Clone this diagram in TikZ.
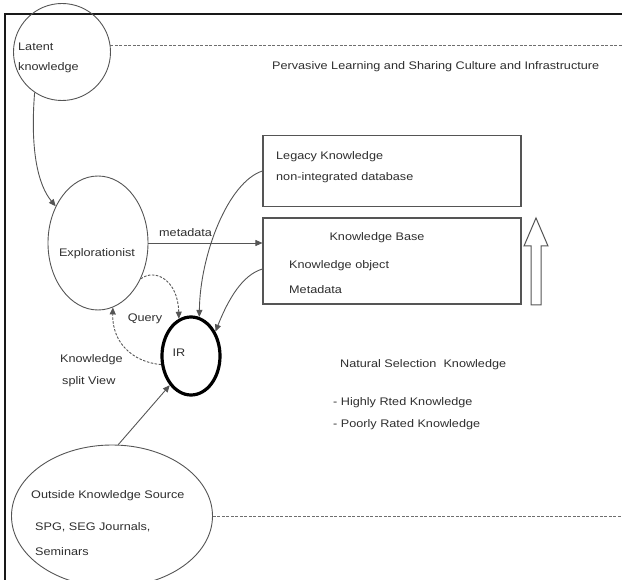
\documentclass[tikz,border=0pt]{standalone}
\usepackage{fontspec}
\setmainfont[FakeStretch=1.15]{Liberation Sans}
\usetikzlibrary{shapes.geometric,arrows.meta,calc}
\definecolor{ln}{HTML}{555555}
\definecolor{tx}{HTML}{2E2E2E}
\begin{document}
\begin{tikzpicture}[x=1pt,y=-1pt,
  lbl/.style={anchor=west,inner sep=0pt,text=tx,font=\fontsize{11}{12}\selectfont},
  clbl/.style={inner sep=0pt,text=tx,font=\fontsize{11}{12}\selectfont},
  oval/.style={ellipse,draw=ln,line width=0.9pt,inner sep=0pt},
  box/.style={rectangle,draw=ln,line width=1.1pt,inner sep=0pt},
  arr/.style={draw=ln,line width=0.9pt,-{Triangle[length=7pt,width=6pt]}},
  darr/.style={arr,dash pattern=on 2.5pt off 1.5pt},
  dline/.style={draw=ln!85,line width=1pt,dash pattern=on 3pt off 1.5pt}]
\useasboundingbox (0,0) rectangle (622,580);
\clip (0,0) rectangle (622,580);
% frame
\coordinate (ftl) at (5,14);
\coordinate (ftr) at (622,14);
\coordinate (fbl) at (5,580);
\draw[line width=2.6pt,black!90] (fbl) -- (ftl) -- (ftr);
% nodes
\node[oval,minimum width=97pt,minimum height=97pt] (latent) at (62,52) {};
\node[oval,minimum width=100pt,minimum height=134pt] (explo) at (98,243) {};
\node[box,minimum width=258pt,minimum height=71pt] (legacy) at (392,171) {};
\node[box,minimum width=258pt,minimum height=86pt] (kb) at (392,261) {};
\node[ellipse,draw=black,line width=3.2pt,minimum width=58pt,minimum height=78pt,inner sep=0pt] (ir) at (191,356) {};
\node[oval,minimum width=201pt,minimum height=142pt] (outside) at (112,516) {};
% texts
\node[lbl] (t1) at (18,47) {Latent};
\node[lbl] (t2) at (18,68) {knowledge};
\node[lbl] (t3) at (272,67) {Pervasive Learning and Sharing Culture and Infrastructure};
\node[clbl] (t4) at (97,254) {Explorationist};
\node[lbl] (t5) at (159,233) {metadata};
\node[lbl] (t6) at (276,157) {Legacy Knowledge};
\node[lbl] (t7) at (276,178) {non-integrated database};
\node[clbl] (t8) at (377,238) {Knowledge Base};
\node[lbl] (t9) at (289,266) {Knowledge object};
\node[lbl] (t10) at (289,290) {Metadata};
\node[clbl] (t11) at (179,353) {IR};
\node[clbl] (t12) at (145,319) {Query};
\node[lbl] (t13) at (60,360) {Knowledge};
\node[lbl] (t14) at (62,382) {split View};
\node[lbl] (t15) at (340,365) {Natural Selection\ \ Knowledge};
\node[lbl] (t16) at (333,403) {- Highly Rted Knowledge};
\node[lbl] (t17) at (333,425) {- Poorly Rated Knowledge};
\node[lbl] (t18) at (31,496) {Outside Knowledge Source};
\node[lbl] (t19) at (35,527) {SPG, SEG Journals,};
\node[lbl] (t20) at (35,552) {Seminars};
% dashed horizontal lines
\coordinate (rt) at (622,45);
\coordinate (rb) at (622,515);
\draw[dline] (latent.8) -- (latent.8 -| rt);
\draw[dline] (outside.east) -- (outside.east -| rb);
% hollow up arrow
\draw[draw=ln,line width=1pt,fill=white] (531,305) -- (541,305) -- (541,246) -- (548,246) -- (536,218) -- (524,246) -- (531,246) -- cycle;
% connectors
\draw[arr] (latent.236) .. controls (30,150) and (38,185) .. (explo.139);
\draw[arr] (explo.east) -- (explo.east -| kb.west);
\draw[arr] (legacy.west) .. controls (228,182) and (200,255) .. (ir.78);
\draw[arr] ([yshift=-8pt]kb.west) .. controls (242,275) and (228,300) .. (ir.45);
\draw[darr] (explo.320) .. controls (155,268) and (178,280) .. (ir.108);
\draw[darr] (ir.196) .. controls (132,362) and (112,342) .. (explo.283);
\draw[arr] (outside.85) -- (ir.234);
\end{tikzpicture}
\end{document}
